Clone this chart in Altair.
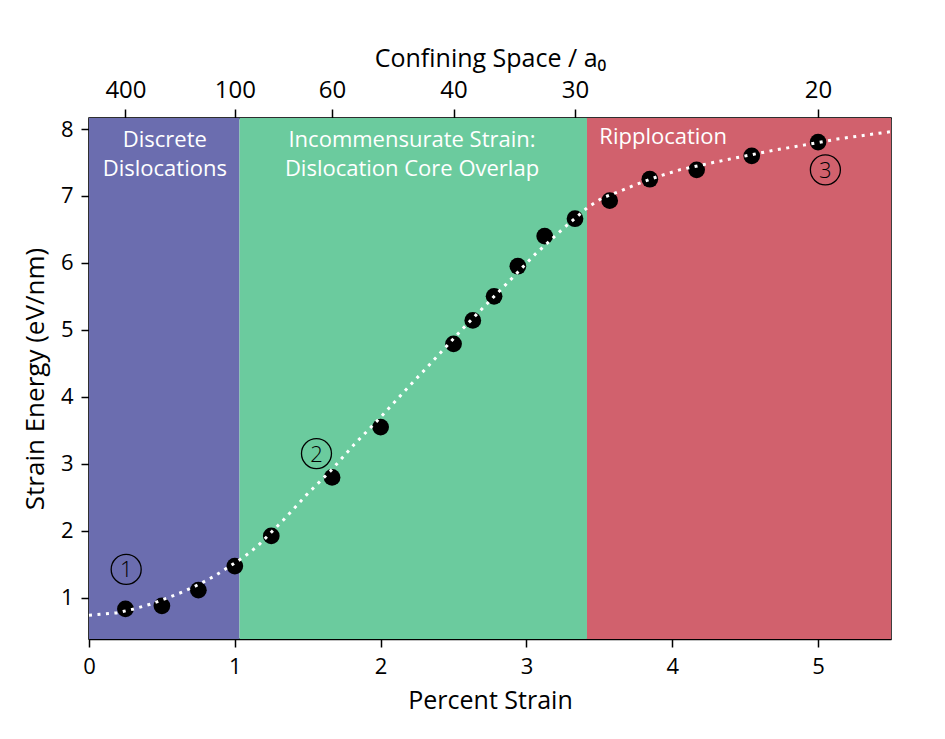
import altair as alt
import pandas as pd

# ---------------- data ----------------
strain_pts = [0.25, 0.50, 0.75, 1.0, 1.25, 1.667, 2.0, 2.5, 2.632, 2.778,
              2.941, 3.125, 3.333, 3.571, 3.846, 4.167, 4.545, 5.0]
energy_pts = [0.83, 0.875, 1.11, 1.47, 1.92, 2.795, 3.547, 4.79, 5.14, 5.50,
              5.95, 6.40, 6.66, 6.93, 7.25, 7.39, 7.60, 7.805]

fit_x = [0.0, 0.19, 0.31, 0.42, 0.54, 0.65, 0.757, 0.86, 0.96, 1.065, 1.157,
         1.33, 1.49, 1.656, 1.82, 1.985, 2.15, 2.314, 2.437, 2.56, 2.725,
         2.896, 3.06, 3.24, 3.42, 3.52, 3.64, 3.75, 3.90, 4.05, 4.28, 4.46,
         4.69, 4.90, 5.13, 5.46, 5.5]
fit_y = [0.735, 0.77, 0.83, 0.90, 0.995, 1.09, 1.20, 1.32, 1.46, 1.61, 1.77,
         2.15, 2.53, 2.89, 3.29, 3.66, 4.05, 4.43, 4.72, 5.01, 5.38,
         5.76, 6.13, 6.49, 6.83, 6.97, 7.07, 7.17, 7.29, 7.39, 7.50, 7.58,
         7.68, 7.76, 7.85, 7.95, 7.96]

region_names = ["Discrete", "Incommensurate", "Ripplocation"]
region_start = [0.0, 1.032, 3.415]
region_end = [1.032, 3.415, 5.5]
region_colors = ["#6B6DAF", "#6BCB9E", "#D1616D"]

label_texts = ["Discrete\nDislocations",
               "Incommensurate Strain:\nDislocation Core Overlap",
               "Ripplocation"]
label_x = [0.52, 2.215, 3.50]
label_y = [7.73, 7.73, 7.78]
label_align = ["center", "center", "left"]

marker_texts = ["1", "2", "3"]
marker_x = [0.255, 1.56, 5.05]
marker_y = [1.42, 3.15, 7.39]

top_tick_labels = [400, 100, 60, 40, 30, 20]
top_tick_pos = [100.0 / v for v in top_tick_labels]

x_dom = [0, 5.5]
y_dom = [0.38, 8.165]
FONT = "Open Sans"

# ---------------- tables ----------------
pts = pd.DataFrame({"x": strain_pts, "y": energy_pts})
fit = pd.DataFrame({"x": fit_x, "y": fit_y, "o": list(range(len(fit_x)))})
regions = pd.DataFrame({"name": region_names, "x0": region_start,
                        "x1": region_end})
labels = pd.DataFrame({"t": label_texts, "x": label_x, "y": label_y,
                       "a": label_align})
markers = pd.DataFrame({"t": marker_texts, "x": marker_x, "y": marker_y})

xs = alt.Scale(domain=x_dom, nice=False, zero=False)
ys = alt.Scale(domain=y_dom, nice=False, zero=False)

common = dict(grid=False, tickWidth=1.5, domainWidth=1.5, domainColor="black",
              tickColor="black", labelColor="black", titleColor="black",
              titleFontWeight="normal", labelFont=FONT, titleFont=FONT,
              labelFlush=False, labelOverlap=False)

bottom_axis = alt.Axis(values=[0, 1, 2, 3, 4, 5], format="d", orient="bottom",
                       title="Percent Strain", labelFontSize=22,
                       titleFontSize=25, labelPadding=9, titlePadding=11,
                       tickSize=8, **common)
left_axis = alt.Axis(values=[1, 2, 3, 4, 5, 6, 7, 8], format="d",
                     title="Strain Energy (eV/nm)",
                     labelFontSize=22, titleFontSize=26, labelPadding=8,
                     titlePadding=12, tickSize=8, **common)
top_axis = alt.Axis(values=top_tick_pos, orient="top",
                    labelExpr="round(100/datum.value)",
                    title="Confining Space / a\u2080",
                    labelFontSize=24, titleFontSize=25, labelPadding=7,
                    titlePadding=7, tickSize=9, **common)

bg = alt.Chart(regions).mark_rect(opacity=1).encode(
    x=alt.X("x0:Q", scale=xs, axis=bottom_axis),
    x2="x1:Q",
    y=alt.value(0),
    y2=alt.value(521),
    color=alt.Color("name:N", scale=alt.Scale(domain=region_names,
                                               range=region_colors),
                    legend=None),
)

top = alt.Chart(regions).mark_rect(opacity=0).encode(
    x=alt.X("x0:Q", scale=xs, axis=top_axis),
    x2="x1:Q",
    y=alt.value(0),
    y2=alt.value(1),
)

dots = alt.Chart(pts).mark_circle(color="black", opacity=1, size=280).encode(
    x=alt.X("x:Q", scale=xs, axis=None),
    y=alt.Y("y:Q", scale=ys, axis=left_axis),
)

line = alt.Chart(fit).mark_line(color="white", strokeWidth=3,
                                strokeDash=[3, 5.5]).encode(
    x=alt.X("x:Q", scale=xs, axis=None),
    y=alt.Y("y:Q", scale=ys, axis=None),
    order="o:Q",
)

circ = alt.Chart(markers).mark_point(shape="circle", filled=False,
                                     color="black", strokeWidth=1.3,
                                     size=900, opacity=1).encode(
    x=alt.X("x:Q", scale=xs, axis=None),
    y=alt.Y("y:Q", scale=ys, axis=None),
)
ctext = alt.Chart(markers).mark_text(color="black", fontSize=22, font=FONT,
                                     fontWeight=300, baseline="middle",
                                     dy=1).encode(
    x=alt.X("x:Q", scale=xs, axis=None),
    y=alt.Y("y:Q", scale=ys, axis=None),
    text="t:N",
)

rt_center = alt.Chart(labels).transform_filter("datum.a == 'center'").mark_text(
    color="white", fontSize=22, font=FONT, baseline="alphabetic",
    lineBreak="\n", lineHeight=29, align="center").encode(
    x=alt.X("x:Q", scale=xs, axis=None),
    y=alt.Y("y:Q", scale=ys, axis=None),
    text="t:N",
)
rt_left = alt.Chart(labels).transform_filter("datum.a == 'left'").mark_text(
    color="white", fontSize=22, font=FONT, baseline="alphabetic",
    lineBreak="\n", lineHeight=29, align="left").encode(
    x=alt.X("x:Q", scale=xs, axis=None),
    y=alt.Y("y:Q", scale=ys, axis=None),
    text="t:N",
)

chart = alt.layer(bg, top, dots, line, rt_center, rt_left, circ, ctext).resolve_axis(
    x="independent", y="independent"
).properties(
    width=802, height=521,
    autosize=alt.AutoSizeParams(type="none"),
    padding={"left": 89, "top": 118, "right": 54, "bottom": 100},
    background="white",
).configure(font=FONT).configure_view(stroke="black", strokeWidth=1.5)

chart.save("out.html", embed_options={"renderer": "svg", "actions": False})
